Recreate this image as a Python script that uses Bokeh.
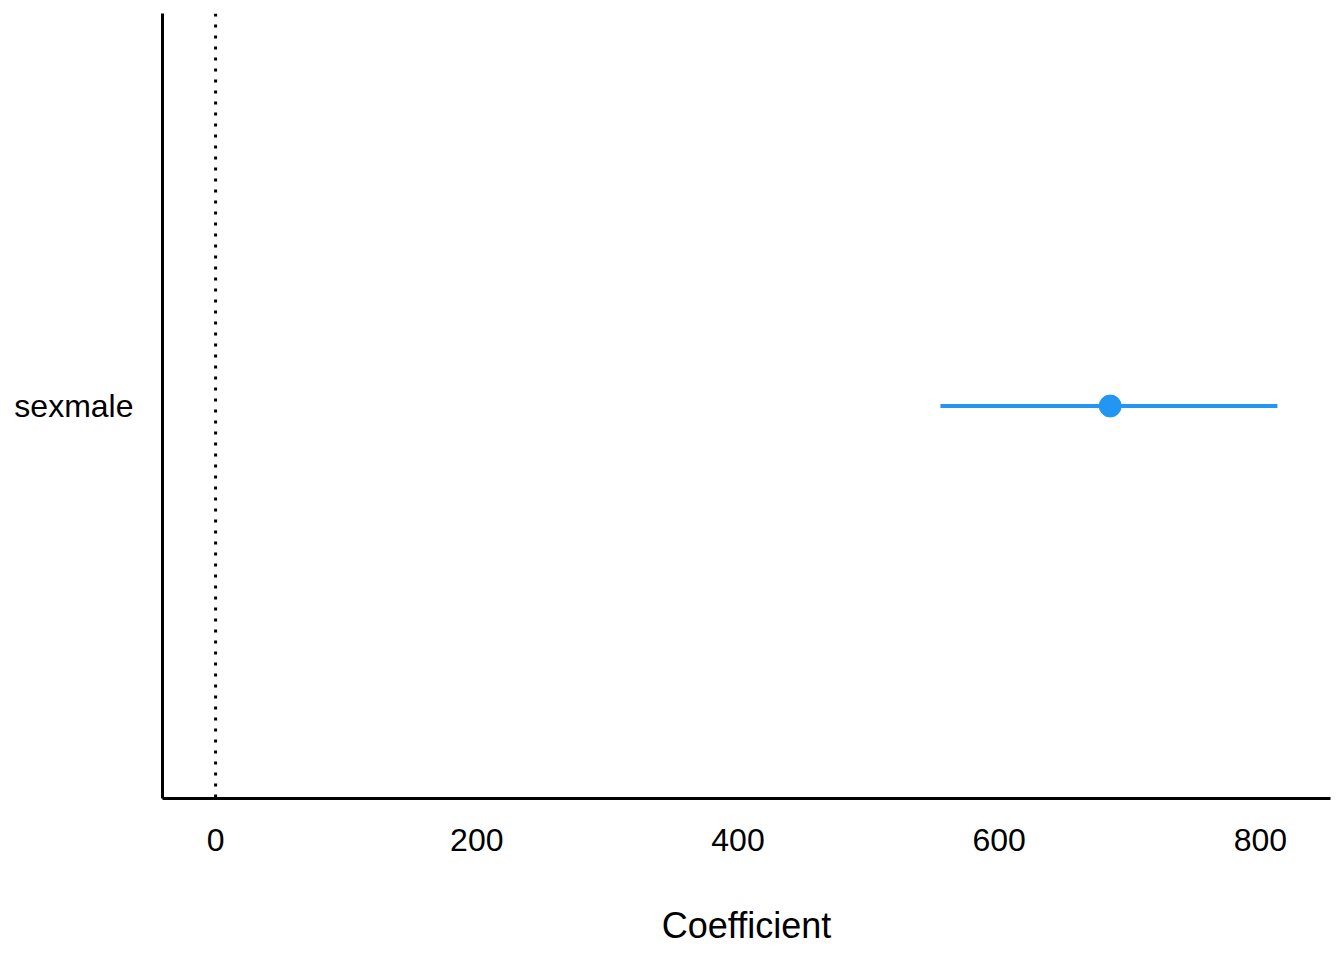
from bokeh.plotting import figure
from bokeh.models import Span, FixedTicker, Range1d, ColumnDataSource
from bokeh.embed import file_html
from bokeh.resources import INLINE

terms = ["sexmale"]
estimates = [685]
conf_low = [555]
conf_high = [813]
x_ticks = [0, 200, 400, 600, 800]

lo = min(0, min(conf_low))
hi = max(conf_high)
pad = 0.05 * (hi - lo)

p = figure(width=1338, height=952, y_range=terms,
           x_range=Range1d(lo - pad, hi + pad),
           output_backend="svg", toolbar_location=None,
           min_border_left=162, min_border_right=8, min_border_top=13, min_border_bottom=154)

src = ColumnDataSource(dict(term=terms, est=estimates, low=conf_low, high=conf_high))

p.add_layout(Span(location=0, dimension="height", line_color="black",
                  line_width=3, line_dash="3 8"))
p.segment(x0="low", x1="high", y0="term", y1="term", source=src,
          line_color="#2196F3", line_width=4)
p.scatter(x="est", y="term", source=src, size=22, fill_color="#2196F3",
          line_color="#2196F3")

font = "Liberation Sans"
p.xgrid.grid_line_color = None
p.ygrid.grid_line_color = None
p.outline_line_color = None
p.background_fill_color = "white"

for ax in (p.xaxis[0], p.yaxis[0]):
    ax.axis_line_color = "black"
    ax.axis_line_width = 3
    ax.major_tick_line_color = None
    ax.minor_tick_line_color = None
    ax.major_label_text_font = font
    ax.major_label_text_font_size = "32px"
    ax.major_label_text_color = "black"

p.xaxis.ticker = FixedTicker(ticks=x_ticks)
p.xaxis.axis_label = "Coefficient"
p.xaxis.axis_label_text_font = font
p.xaxis.axis_label_text_font_size = "36px"
p.xaxis.axis_label_text_font_style = "normal"
p.xaxis.axis_label_text_color = "black"
p.xaxis.major_label_standoff = 24
p.xaxis.axis_label_standoff = 51
p.yaxis.major_label_standoff = 23

open("out.html", "w").write(file_html(p, INLINE))
